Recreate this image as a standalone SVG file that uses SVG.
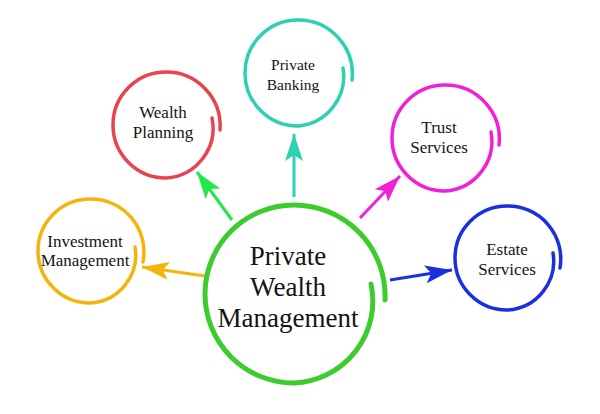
<svg xmlns="http://www.w3.org/2000/svg" width="600" height="414" viewBox="0 0 600 414">
<style>
  .ring { fill: none; stroke-linecap: round; stroke-linejoin: round; }
  .lbl { font-family: "Liberation Serif", "Times New Roman", serif; fill: #141414; text-anchor: middle; }
  .sm { font-size: 17px; }
  .big { font-size: 27px; }
  .conn { fill: none; stroke-width: 3; }
</style>
<defs>
  <marker id="aO" markerUnits="userSpaceOnUse" markerWidth="28" markerHeight="20" refX="27" refY="10" orient="auto"><path d="M27,10 L0,1 L6,10 L0,19 Z" fill="#f4b40c"/></marker>
  <marker id="aG" markerUnits="userSpaceOnUse" markerWidth="28" markerHeight="20" refX="27" refY="10" orient="auto"><path d="M27,10 L0,1 L6,10 L0,19 Z" fill="#22e84a"/></marker>
  <marker id="aT" markerUnits="userSpaceOnUse" markerWidth="28" markerHeight="20" refX="27" refY="10" orient="auto"><path d="M27,10 L0,1 L6,10 L0,19 Z" fill="#2dd0b0"/></marker>
  <marker id="aM" markerUnits="userSpaceOnUse" markerWidth="28" markerHeight="20" refX="27" refY="10" orient="auto"><path d="M27,10 L0,1 L6,10 L0,19 Z" fill="#f020d8"/></marker>
  <marker id="aB" markerUnits="userSpaceOnUse" markerWidth="28" markerHeight="20" refX="27" refY="10" orient="auto"><path d="M27,10 L0,1 L6,10 L0,19 Z" fill="#1a30e0"/></marker>
</defs>
<rect width="600" height="414" fill="#ffffff"/>
<g id="connectors">
  <path class="conn" stroke="#f4b40c" d="M205,276 L142,267" marker-end="url(#aO)"/>
  <path class="conn" stroke="#22e84a" d="M232,220 L197,172" marker-end="url(#aG)"/>
  <path class="conn" stroke="#2dd0b0" d="M294,197 L294,134" marker-end="url(#aT)"/>
  <path class="conn" stroke="#f020d8" d="M360,218 L400,176" marker-end="url(#aM)"/>
  <path class="conn" stroke="#1a30e0" d="M390,280 L452,270" marker-end="url(#aB)"/>
</g>
<g id="central">
  <path class="ring" stroke="#3dcc2e" stroke-width="5" d="M371,284 A82,82 0 0 1 294,383 A89,89 0 0 1 205,294 A89,89 0 0 1 294,205 A91,91 0 0 1 385,300"/>
  <text class="lbl big" x="288" y="265">Private</text>
  <text class="lbl big" x="288" y="296">Wealth</text>
  <text class="lbl big" x="288" y="327">Management</text>
</g>
<g id="investment">
  <path class="ring" stroke="#f4b40c" stroke-width="3.5" d="M135,247 A48,48 0 0 1 90,303 A52,52 0 0 1 38,251 A52,52 0 0 1 90,199 A53,53 0 0 1 143,262"/>
  <text class="lbl sm" x="85" y="247">Investment</text>
  <text class="lbl sm" x="85" y="266">Management</text>
</g>
<g id="wealth-planning">
  <path class="ring" stroke="#e8434f" stroke-width="3.5" d="M212,118 A50,50 0 0 1 166,178 A53,53 0 0 1 113,125 A53,53 0 0 1 166,72 A54,54 0 0 1 220,130"/>
  <text class="lbl sm" x="163" y="118">Wealth</text>
  <text class="lbl sm" x="163" y="138">Planning</text>
</g>
<g id="private-banking">
  <path class="ring" stroke="#2dd0b0" stroke-width="3.5" d="M343,68 A50,50 0 0 1 298,126 A53,53 0 0 1 245,73 A53,53 0 0 1 298,20 A54,54 0 0 1 352,80"/>
  <text class="lbl" style="font-size:15.5px" x="293" y="70">Private</text>
  <text class="lbl" style="font-size:15.5px" x="293" y="90">Banking</text>
</g>
<g id="trust-services">
  <path class="ring" stroke="#f020d8" stroke-width="3.5" d="M491,132 A50,50 0 0 1 445,191 A53,53 0 0 1 392,138 A53,53 0 0 1 445,85 A54,54 0 0 1 499,145"/>
  <text class="lbl sm" x="439" y="133">Trust</text>
  <text class="lbl sm" x="439" y="153">Services</text>
</g>
<g id="estate-services">
  <path class="ring" stroke="#1a30e0" stroke-width="3.5" d="M553,253 A49,49 0 0 1 507,310 A52,52 0 0 1 455,258 A52,52 0 0 1 507,206 A53,53 0 0 1 560,268"/>
  <text class="lbl sm" x="507" y="255">Estate</text>
  <text class="lbl sm" x="507" y="275">Services</text>
</g>
</svg>
